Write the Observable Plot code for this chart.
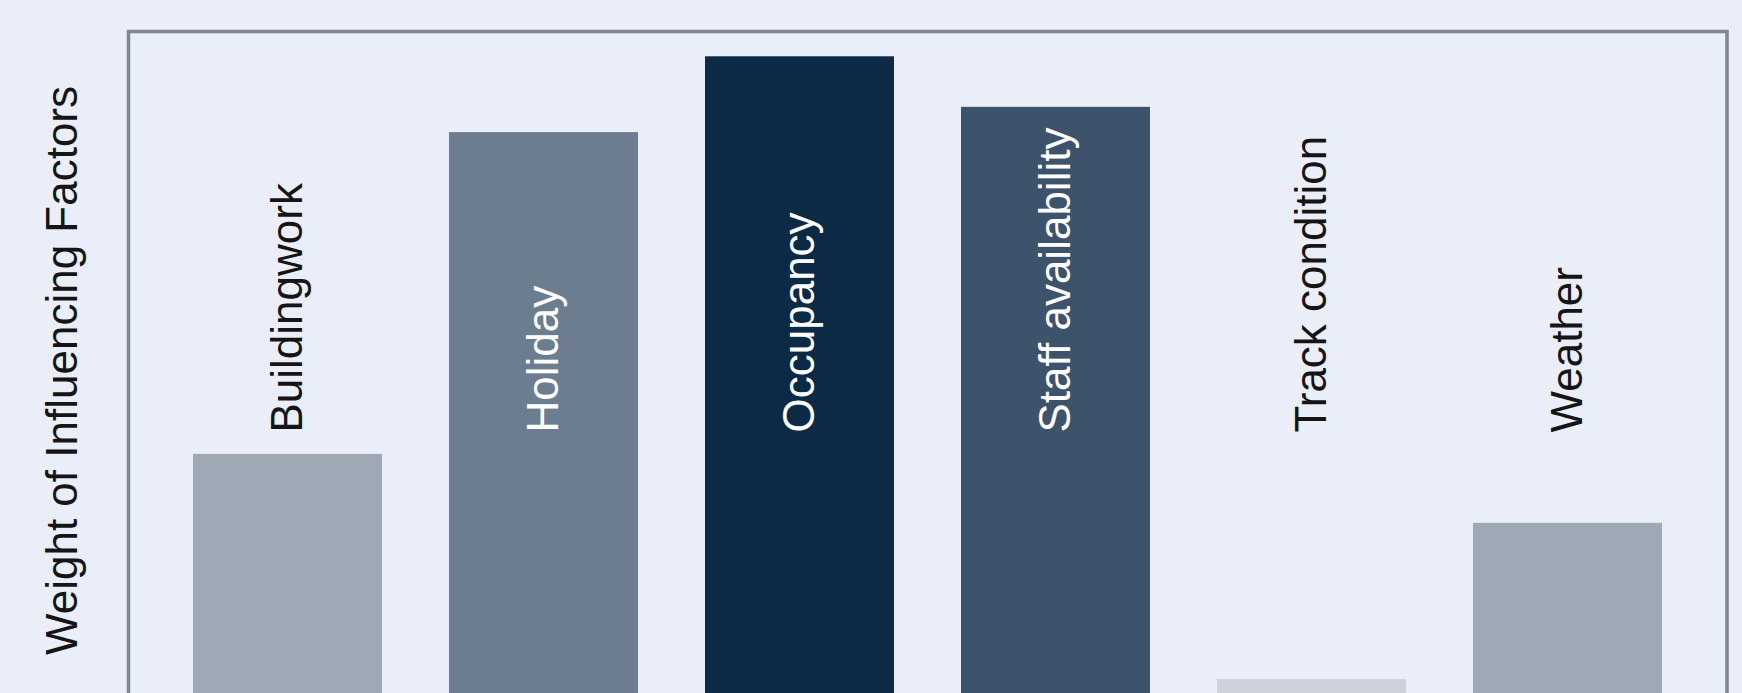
<!DOCTYPE html>
<html>
<head>
<meta charset="utf-8">
<script src="https://cdn.jsdelivr.net/npm/d3@7"></script>
<script src="https://cdn.jsdelivr.net/npm/@observablehq/plot@0.6"></script>
<style>
  html, body { margin: 0; padding: 0; background: #eaeef8; overflow: hidden; }
  #chart svg { display: block; }
</style>
</head>
<body>
<div id="chart"></div>
<script>
// ---- data ----
const categories = ["Buildingwork", "Holiday", "Occupancy", "Staff availability", "Track condition", "Weather"];
const weights = [0.111, 0.251, 0.284, 0.262, 0.013, 0.081];
const yLabel = "Weight of Influencing Factors";

// ---- styles ----
const barColors = ["#9fa9b5", "#6b7d8f", "#0c2a45", "#3d536b", "#cdd2db", "#9fa9b5"];
const textColors = ["#151515", "#ffffff", "#ffffff", "#ffffff", "#151515", "#151515"];

const rows = categories.map((c, i) => ({category: c, weight: weights[i], textColor: textColors[i]}));

const font = "'Liberation Sans', Arial, Helvetica, sans-serif";

const chart = Plot.plot({
  width: 1742,
  height: 693,
  marginTop: 31,
  marginLeft: 128,
  marginRight: 15.5,
  marginBottom: -16,
  style: {background: "#eaeef8", fontFamily: font, overflow: "hidden"},
  x: {domain: categories, paddingInner: 0.26, paddingOuter: 0.25, axis: null},
  y: {domain: [0, 0.295], axis: null},
  color: {domain: categories, range: barColors},
  marks: [
    Plot.barY(rows, {x: "category", y: "weight", fill: "category"}),
    Plot.frame({stroke: "#7f8792", strokeWidth: 3.5}),
    Plot.text(rows, {
      x: "category",
      text: "category",
      frameAnchor: "bottom",
      dy: -277,
      rotate: -90,
      textAnchor: "start",
      lineAnchor: "middle",
      fill: "textColor",
      fontSize: 44,
      fontFamily: font
    }),
    Plot.text([yLabel], {
      text: d => d,
      frameAnchor: "left",
      dx: -83,
      rotate: -90,
      textAnchor: "middle",
      lineAnchor: "top",
      fill: "#151515",
      fontSize: 44,
      fontFamily: font
    })
  ]
});
document.getElementById("chart").appendChild(chart);
</script>
</body>
</html>
